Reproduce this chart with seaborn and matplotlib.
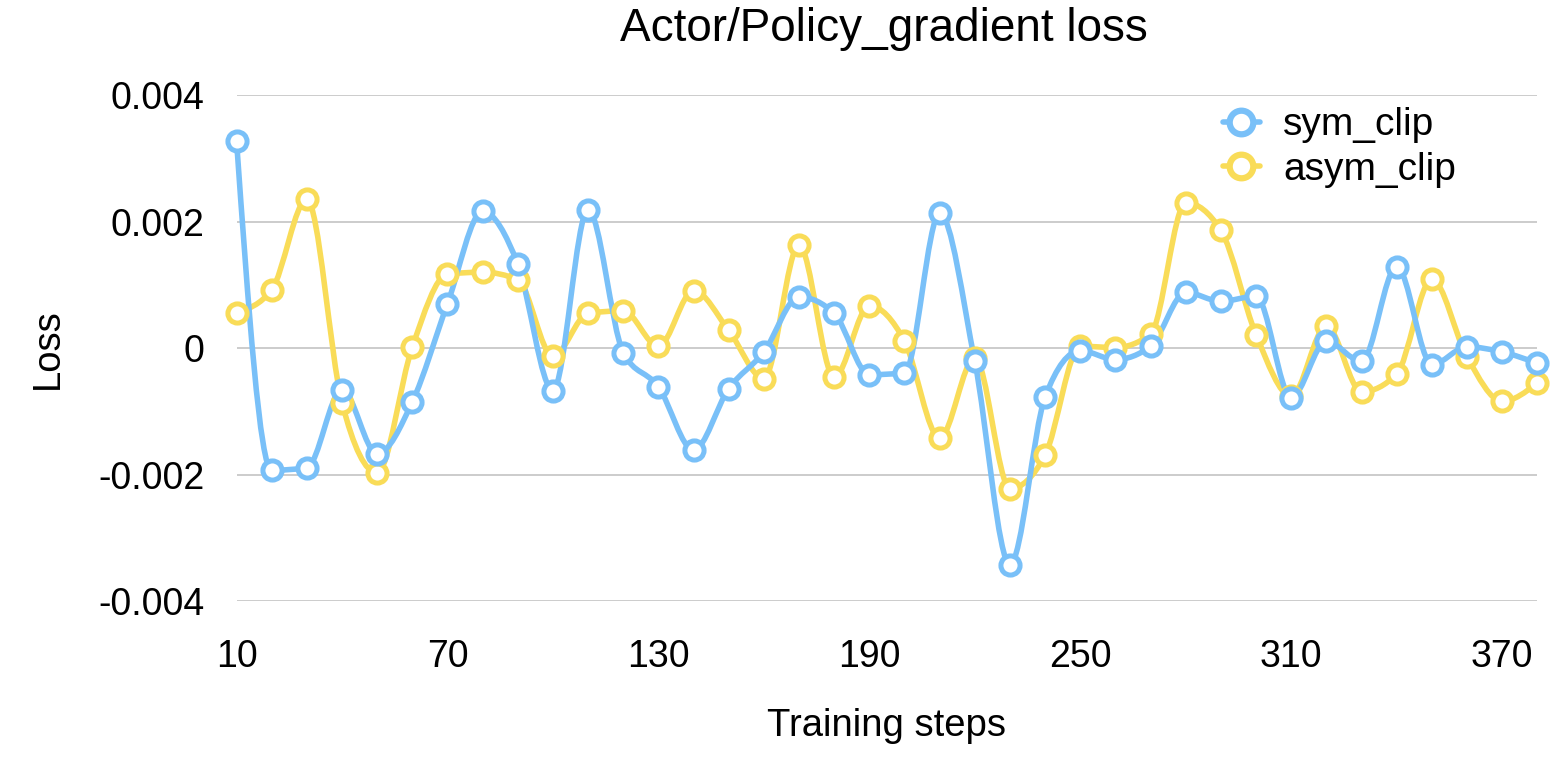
import numpy as np
import pandas as pd
import seaborn as sns
import matplotlib.pyplot as plt
from matplotlib.path import Path
from matplotlib.patches import PathPatch
from matplotlib.lines import Line2D

steps = list(range(10, 390, 10))

sym_clip = [0.00328, -0.00193, -0.00189, -0.00066, -0.00167, -0.00085, 0.00070, 0.00216,
            0.00133, -0.00067, 0.00219, -0.00007, -0.00061, -0.00161, -0.00064, -0.00006,
            0.00081, 0.00055, -0.00042, -0.00039, 0.00213, -0.00021, -0.00342, -0.00077,
            -0.00004, -0.00018, 0.00003, 0.00088, 0.00074, 0.00082, -0.00078, 0.00011,
            -0.00021, 0.00129, -0.00026, 0.00002, -0.00006, -0.00024]

asym_clip = [0.00056, 0.00092, 0.00235, -0.00086, -0.00197, 0.00002, 0.00117, 0.00120,
             0.00108, -0.00013, 0.00055, 0.00059, 0.00003, 0.00091, 0.00028, -0.00048,
             0.00163, -0.00046, 0.00067, 0.00011, -0.00142, -0.00015, -0.00222, -0.00169,
             0.00003, 0.00001, 0.00022, 0.00230, 0.00186, 0.00021, -0.00076, 0.00035,
             -0.00069, -0.00041, 0.00109, -0.00014, -0.00084, -0.00055]

series_names = ["sym_clip", "asym_clip"]
colors = {"sym_clip": "#79C0F8", "asym_clip": "#F9DC58"}

xticks = [10, 70, 130, 190, 250, 310, 370]
yticks = [-0.004, -0.002, 0, 0.002, 0.004]
ytick_labels = ["-0.004", "-0.002", "0", "0.002", "0.004"]

df = pd.DataFrame({"step": steps * 2,
                   "loss": sym_clip + asym_clip,
                   "series": ["sym_clip"] * len(steps) + ["asym_clip"] * len(steps)})

sns.set_theme(style="white")
plt.rcParams['font.family'] = ['Liberation Sans', 'DejaVu Sans']
plt.rcParams['text.color'] = 'black'
plt.rcParams['axes.labelcolor'] = 'black'
plt.rcParams['xtick.color'] = 'black'
plt.rcParams['ytick.color'] = 'black'

fig = plt.figure(figsize=(15.56, 7.66), dpi=100)
ax = fig.add_axes([0.152, 0.215, 0.836, 0.661])


def smooth_path(x, y):
    # monotone cubic through the points (no overshoot), as bezier segments
    x = np.asarray(x, float)
    y = np.asarray(y, float)
    h = np.diff(x)
    s = np.diff(y) / h
    m = np.zeros(len(x))
    for i in range(1, len(x) - 1):
        p = (s[i - 1] * h[i] + s[i] * h[i - 1]) / (h[i - 1] + h[i])
        m[i] = (np.sign(s[i - 1]) + np.sign(s[i])) * min(abs(s[i - 1]), abs(s[i]), 0.5 * abs(p))
    m[0] = (3 * s[0] - m[1]) / 2
    m[-1] = (3 * s[-1] - m[-2]) / 2
    verts = [(x[0], y[0])]
    codes = [Path.MOVETO]
    for i in range(len(x) - 1):
        d = h[i] / 3
        verts += [(x[i] + d, y[i] + d * m[i]), (x[i + 1] - d, y[i + 1] - d * m[i + 1]),
                  (x[i + 1], y[i + 1])]
        codes += [Path.CURVE4] * 3
    return Path(verts, codes)


for name in ["asym_clip", "sym_clip"]:
    sub = df[df.series == name]
    patch = PathPatch(smooth_path(sub.step.values, sub.loss.values), facecolor="none",
                      edgecolor=colors[name], lw=4, zorder=2, clip_on=False)
    ax.add_patch(patch)

sns.scatterplot(data=df[df.series == "asym_clip"], x="step", y="loss", ax=ax, s=190,
                color="white", edgecolor=colors["asym_clip"], linewidth=3.6, zorder=3,
                clip_on=False, legend=False)
sns.scatterplot(data=df[df.series == "sym_clip"], x="step", y="loss", ax=ax, s=190,
                color="white", edgecolor=colors["sym_clip"], linewidth=3.6, zorder=4,
                clip_on=False, legend=False)

ax.set_xlim(10, 380)
ax.set_ylim(-0.004, 0.004)
ax.set_xticks(xticks)
ax.set_xticklabels([str(t) for t in xticks])
ax.set_yticks(yticks)
ax.set_yticklabels(ytick_labels, va="center_baseline")
ax.tick_params(axis="x", labelsize=27, pad=27, length=0)
ax.tick_params(axis="y", labelsize=27, pad=23, length=0)
ax.yaxis.grid(True, color="#C8C8C8", lw=1.3)
ax.xaxis.grid(False)
ax.set_axisbelow(True)
for s in ax.spines.values():
    s.set_visible(False)

ax.set_xlabel("Training steps", fontsize=27.5, labelpad=24)
ax.set_ylabel("Loss", fontsize=27.5, labelpad=23)
fig.text(0.568, 0.962, "Actor/Policy_gradient loss", fontsize=33, ha="center", va="center")

handles = [Line2D([0], [0], color=colors[n], lw=4, marker="o", ms=17, mfc="white",
                  mec=colors[n], mew=4.5) for n in series_names]
ax.legend(handles, series_names, loc="upper left", bbox_to_anchor=(0.786, 0.86),
          bbox_transform=fig.transFigure, frameon=False, fontsize=28, handlelength=0.95,
          handletextpad=0.6, labelspacing=0.22, borderaxespad=0, borderpad=0)

fig.savefig("out.png", dpi=100)
